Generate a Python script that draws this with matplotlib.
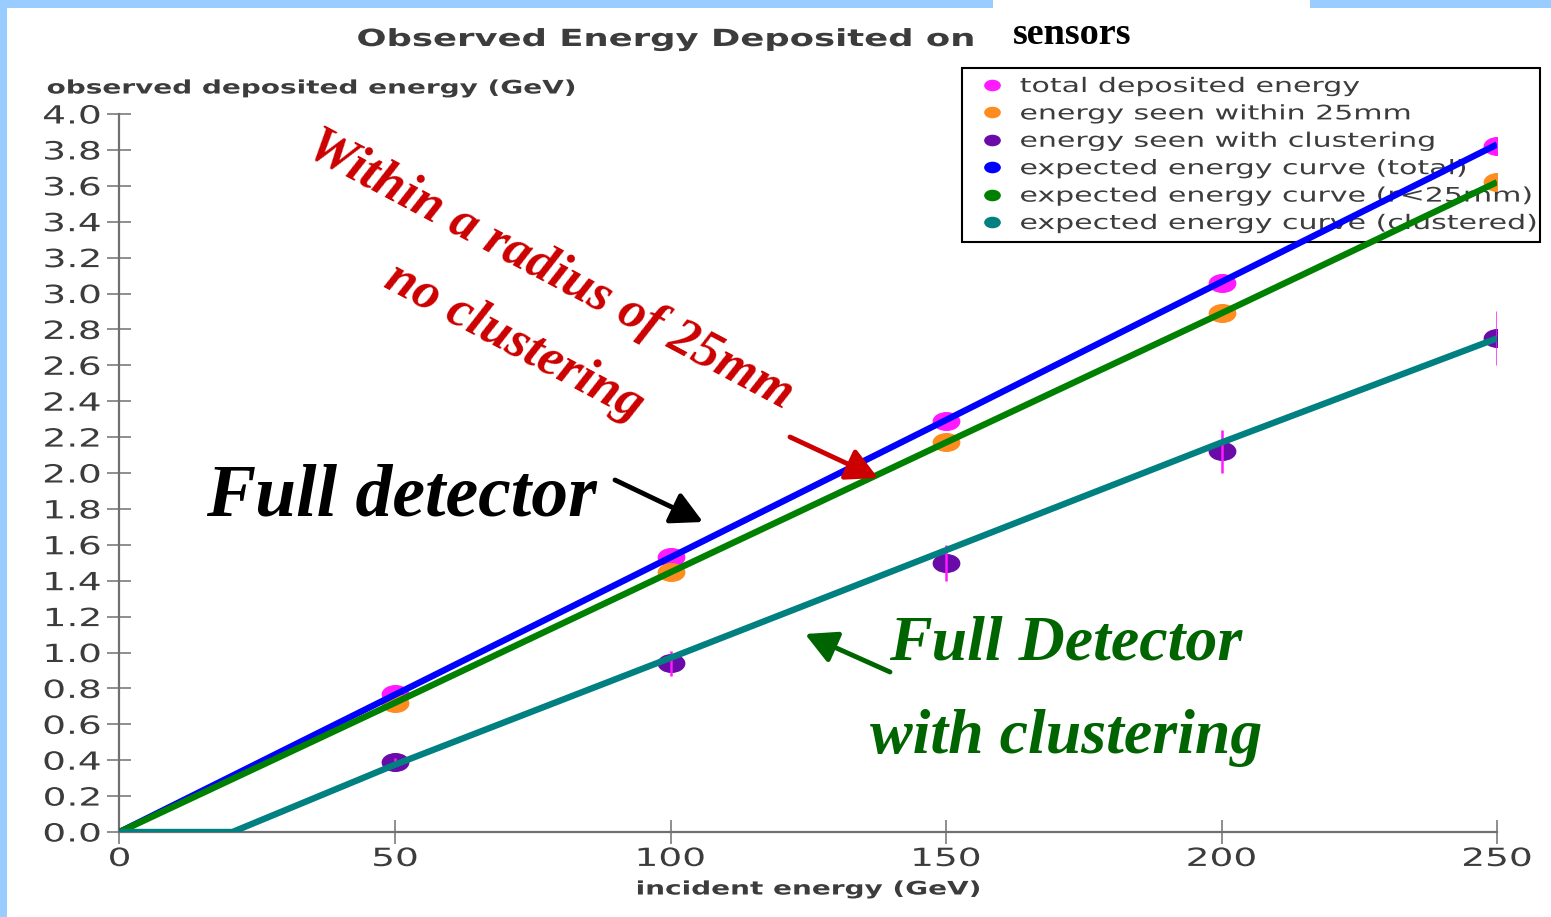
import matplotlib
matplotlib.use("Agg")
import matplotlib.pyplot as plt
from matplotlib.lines import Line2D
from matplotlib.markers import MarkerStyle
from matplotlib.path import Path
from matplotlib.patches import Rectangle, FancyArrowPatch
from matplotlib.patheffects import AbstractPathEffect
from matplotlib.transforms import Affine2D

# ---- data -------------------------------------------------------------
energy = [50, 100, 150, 200, 250]
total_deposited = [0.77, 1.53, 2.29, 3.06, 3.82]
within_25mm = [0.72, 1.45, 2.17, 2.89, 3.62]
with_clustering = [0.39, 0.94, 1.50, 2.12, 2.75]
clustering_err = [0.02, 0.07, 0.10, 0.12, 0.15]

curve_x = [0, 50, 100, 150, 200, 250]
curve_total = [0.0, 0.765, 1.53, 2.295, 3.065, 3.83]
curve_r25 = [0.0, 0.72, 1.447, 2.17, 2.89, 3.62]
curve_clu_x = [0, 20.5, 50, 100, 150, 200, 250]
curve_clustered = [0.0, 0.0, 0.375, 0.97, 1.57, 2.17, 2.75]

x_ticks = [0, 50, 100, 150, 200, 250]
y_ticks = [round(0.2 * i, 1) for i in range(21)]

legend_labels = [
    "total deposited energy",
    "energy seen within 25mm",
    "energy seen with clustering",
    "expected energy curve (total)",
    "expected energy curve (r<25mm)",
    "expected energy curve (clustered)",
]

# ---- colours ----------------------------------------------------------
C_MAGENTA = "#ff1aff"
C_ORANGE = "#ff8c1f"
C_PURPLE = "#6a0aa8"
C_BLUE = "#0000ff"
C_GREEN = "#008000"
C_TEAL = "#008080"
C_TEXT = "#3c3c3c"
C_AXIS = "#707070"
C_FRAME = "#99ccff"
C_RED = "#cc0000"
C_DKGREEN = "#006400"

W, H = 1551, 917


def fx(px):
    return px / W


def fy(py):
    return 1.0 - py / H


class WideGlyphs(AbstractPathEffect):
    """Draw text glyphs horizontally widened about a chosen anchor."""

    def __init__(self, sx=1.5, anchor="center"):
        super().__init__()
        self.sx = sx
        self.anchor = anchor

    def draw_path(self, renderer, gc, tpath, affine, rgbFace=None):
        ext = tpath.get_extents(affine)
        if self.anchor == "left":
            x0 = ext.x0
        elif self.anchor == "right":
            x0 = ext.x1
        else:
            x0 = 0.5 * (ext.x0 + ext.x1)
        widen = Affine2D().translate(-x0, 0).scale(self.sx, 1.0).translate(x0, 0)
        renderer.draw_path(gc, tpath, affine + widen, rgbFace)


SX = 1.5
ellipse = MarkerStyle(Path.unit_circle().transformed(Affine2D().scale(1.5, 1.0)))

fig = plt.figure(figsize=(W / 100, H / 100), dpi=100)
fig.patch.set_facecolor("white")

# slide frame strips
fig.add_artist(Rectangle((0, fy(917)), fx(7), 1, transform=fig.transFigure,
                         facecolor=C_FRAME, edgecolor="none", zorder=0))
fig.add_artist(Rectangle((0, fy(8)), fx(993), fy(0) - fy(8), transform=fig.transFigure,
                         facecolor=C_FRAME, edgecolor="none", zorder=0))
fig.add_artist(Rectangle((fx(1310), fy(8)), fx(1551) - fx(1310), fy(0) - fy(8),
                         transform=fig.transFigure, facecolor=C_FRAME,
                         edgecolor="none", zorder=0))

ax = fig.add_axes([fx(119.5), fy(832), fx(1497) - fx(119.5), fy(114) - fy(832)])
ax.set_xlim(0, 250)
ax.set_ylim(0, 4.0)
ax.set_facecolor("none")

# measured points
ax.plot(energy, total_deposited, ls="none", marker=ellipse, markersize=19,
        color=C_MAGENTA, zorder=2)
ax.plot(energy, within_25mm, ls="none", marker=ellipse, markersize=19,
        color=C_ORANGE, zorder=2)
ax.plot(energy, with_clustering, ls="none", marker=ellipse, markersize=19,
        color=C_PURPLE, zorder=2)
ax.errorbar(energy, with_clustering, yerr=clustering_err, fmt="none",
            ecolor=C_MAGENTA, elinewidth=1.8, capsize=0, zorder=2.5)

# expected curves
ax.plot(curve_x, curve_total, color=C_BLUE, lw=4.6, zorder=3, solid_capstyle="butt")
ax.plot(curve_x, curve_r25, color=C_GREEN, lw=4.6, zorder=3.1, solid_capstyle="butt")
ax.plot(curve_clu_x, curve_clustered, color=C_TEAL, lw=4.6, zorder=3.2,
        solid_capstyle="butt")

# axes styling
for side in ("top", "right"):
    ax.spines[side].set_visible(False)
for side in ("left", "bottom"):
    ax.spines[side].set_color(C_AXIS)
    ax.spines[side].set_linewidth(1.6)
ax.set_xticks(x_ticks)
ax.set_yticks(y_ticks)
ax.set_xticklabels([str(v) for v in x_ticks])
ax.set_yticklabels([f"{v:.1f}" for v in y_ticks])
ax.tick_params(direction="inout", length=17.5, width=1.1, color=C_AXIS,
               labelsize=18, labelcolor=C_TEXT)
ax.tick_params(axis="y", pad=4.5)
ax.tick_params(axis="x", pad=2)
for t in ax.get_xticklabels():
    t.set_path_effects([WideGlyphs(SX, "center")])
for t in ax.get_yticklabels():
    t.set_path_effects([WideGlyphs(SX, "right")])

# legend
handles = [Line2D([], [], ls="none", marker=ellipse, markersize=11, color=c)
           for c in (C_MAGENTA, C_ORANGE, C_PURPLE, C_BLUE, C_GREEN, C_TEAL)]
leg = ax.legend(handles, legend_labels, loc="upper left",
                bbox_to_anchor=(fx(962), fy(242), fx(1540) - fx(962), fy(68) - fy(242)),
                bbox_transform=fig.transFigure, mode="expand", borderaxespad=0,
                fontsize=14.4, frameon=True, fancybox=False, edgecolor="black",
                facecolor="white", framealpha=1, labelspacing=0.42,
                handlelength=2.1, handletextpad=0.35, borderpad=0.45,
                labelcolor=C_TEXT)
leg.get_frame().set_linewidth(1.5)
leg.set_zorder(1)
for t in leg.get_texts():
    t.set_path_effects([WideGlyphs(SX, "left")])

# titles and axis labels
fig.text(fx(666), fy(39), "Observed Energy Deposited on", ha="center", va="center",
         fontsize=17, fontweight="bold", color=C_TEXT,
         path_effects=[WideGlyphs(SX, "center")])
fig.text(fx(1013), fy(35), "sensors", ha="left", va="center", fontsize=27.5,
         fontweight="bold", family="Liberation Serif", color="black")
fig.text(fx(47), fy(88), "observed deposited energy (GeV)", ha="left", va="center",
         fontsize=13.4, fontweight="bold", color=C_TEXT,
         path_effects=[WideGlyphs(SX, "left")])
fig.text(fx(809), fy(889), "incident energy (GeV)", ha="center", va="center",
         fontsize=13.4, fontweight="bold", color=C_TEXT,
         path_effects=[WideGlyphs(SX, "center")])

# callouts
serif = dict(family="Liberation Serif", fontweight="bold", fontstyle="italic")
fig.text(fx(550), fy(270), "Within a radius of 25mm", ha="center", va="center",
         rotation=-28, rotation_mode="anchor", fontsize=38, color=C_RED, **serif)
fig.text(fx(514), fy(342), "no clustering", ha="center", va="center",
         rotation=-28, rotation_mode="anchor", fontsize=38, color=C_RED, **serif)
fig.text(fx(401), fy(497), "Full detector", ha="center", va="center",
         fontsize=53, color="black", **serif)
fig.text(fx(1066), fy(645), "Full Detector", ha="center", va="center",
         fontsize=46, color=C_DKGREEN, **serif)
fig.text(fx(1066), fy(738), "with clustering", ha="center", va="center",
         fontsize=46, color=C_DKGREEN, **serif)


def arrow(p0, p1, color):
    fig.add_artist(FancyArrowPatch((fx(p0[0]), fy(p0[1])), (fx(p1[0]), fy(p1[1])),
                                   transform=fig.transFigure,
                                   arrowstyle="-|>,head_length=0.95,head_width=0.5",
                                   mutation_scale=20, lw=3.5, color=color,
                                   shrinkA=0, shrinkB=0, zorder=6))


arrow((790, 437), (878, 478), C_RED)
arrow((615, 480), (703, 522), "black")
arrow((890, 672), (805, 634), C_DKGREEN)

fig.savefig("out.png", dpi=100)
